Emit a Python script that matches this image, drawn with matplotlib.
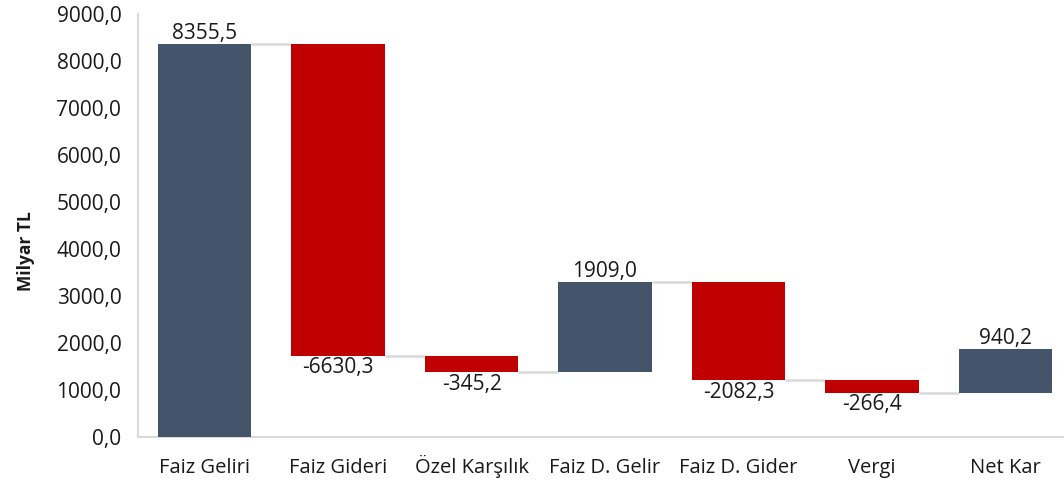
import matplotlib
matplotlib.use("Agg")
import matplotlib.pyplot as plt
import numpy as np

categories = ["Faiz Geliri", "Faiz Gideri", "Özel Karşılık", "Faiz D. Gelir", "Faiz D. Gider", "Vergi", "Net Kar"]
values = [8355.5, -6630.3, -345.2, 1909.0, -2082.3, -266.4, 940.2]
yticks = [0, 1000, 2000, 3000, 4000, 5000, 6000, 7000, 8000, 9000]

plt.rcParams['font.family'] = ['Open Sans', 'DejaVu Sans']

NAVY = "#44546A"
RED = "#C00000"
GRID = "#D9D9D9"
TXT = "#1a1a1a"

fig = plt.figure(figsize=(10.64, 4.87), dpi=100)
ax = fig.add_axes([138/1064, 50/487, 934/1064, 423/487])

x = np.arange(len(categories))
bottoms = []
run = 0.0
for v in values:
    if v >= 0:
        bottoms.append(run)
    else:
        bottoms.append(run + v)
    run += v
heights = [abs(v) for v in values]
colors = [NAVY if v >= 0 else RED for v in values]
w = 0.7
ax.bar(x, heights, bottom=bottoms, width=w, color=colors, zorder=3)

# connectors
run = 0.0
for i, v in enumerate(values[:-1]):
    run += v
    ax.plot([i + w/2, i + 1 - w/2], [run, run], color=GRID, lw=1.8, zorder=2, solid_capstyle='butt')

def fmt(v):
    return f"{v:.1f}".replace(".", ",")

for i, v in enumerate(values):
    if v >= 0:
        ax.annotate(fmt(v), (x[i], bottoms[i] + heights[i]), xytext=(0, 0), textcoords="offset points",
                    ha="center", va="bottom", fontsize=15, color=TXT)
    else:
        ax.annotate(fmt(v), (x[i], bottoms[i]), xytext=(0, -1), textcoords="offset points",
                    ha="center", va="top", fontsize=15, color=TXT)

ax.set_xlim(-0.5, len(categories) - 0.5)
ax.set_ylim(0, 9000)
ax.set_yticks(yticks)
ax.set_yticklabels([fmt(t) for t in yticks], fontsize=15, color=TXT)
ax.set_xticks(x)
ax.set_xticklabels(categories, fontsize=14.5, color=TXT, va="baseline")
ax.tick_params(axis='both', length=0)
ax.tick_params(axis='y', pad=12)
ax.tick_params(axis='x', pad=26)
for s in ["top", "right"]:
    ax.spines[s].set_visible(False)
for s in ["left", "bottom"]:
    ax.spines[s].set_color(GRID)
    ax.spines[s].set_linewidth(1.5)
ax.set_ylabel("Milyar TL", fontsize=12.5, fontweight="bold", color=TXT)
ax.yaxis.set_label_coords(-0.11, 0.44)

fig.savefig("out.png", dpi=100)
